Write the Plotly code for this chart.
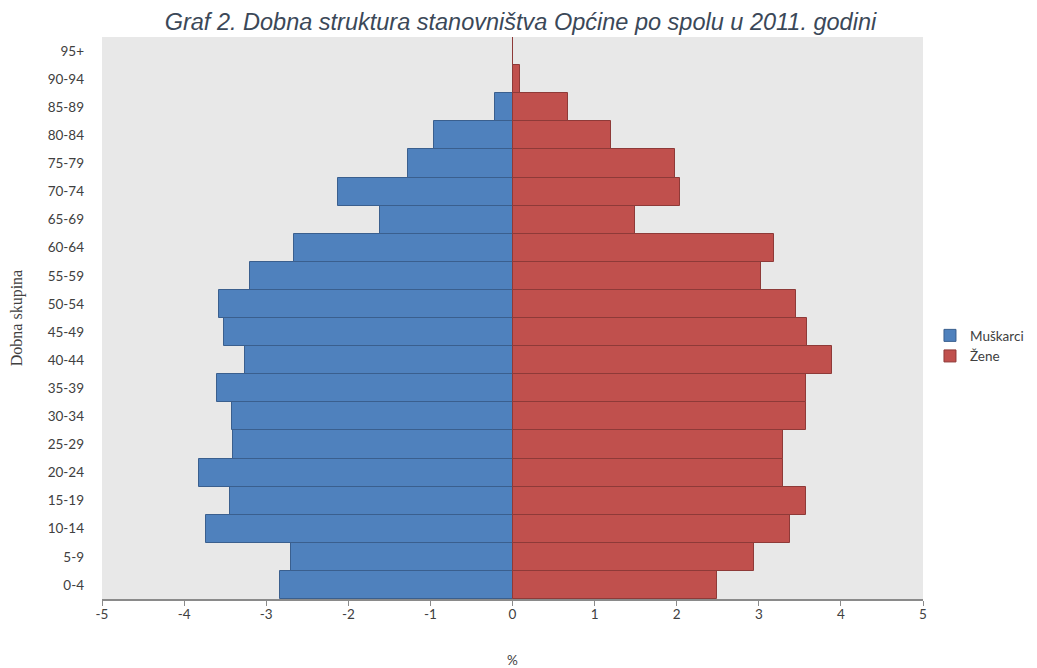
import plotly.graph_objects as go

age_groups = ["0-4", "5-9", "10-14", "15-19", "20-24", "25-29", "30-34", "35-39",
              "40-44", "45-49", "50-54", "55-59", "60-64", "65-69", "70-74", "75-79",
              "80-84", "85-89", "90-94", "95+"]
muskarci = [-2.83, -2.70, -3.73, -3.44, -3.82, -3.41, -3.42, -3.60, -3.26, -3.51,
            -3.57, -3.20, -2.66, -1.61, -2.13, -1.27, -0.955, -0.21, 0.0, 0.0]
zene = [2.49, 2.94, 3.38, 3.57, 3.30, 3.30, 3.57, 3.58, 3.89, 3.59,
        3.45, 3.03, 3.18, 1.49, 2.04, 1.98, 1.195, 0.68, 0.09, 0.0]
x_ticks = [-5, -4, -3, -2, -1, 0, 1, 2, 3, 4, 5]

fig = go.Figure()
fig.add_trace(go.Bar(y=age_groups, x=muskarci, orientation="h", name="Muškarci",
                     marker=dict(color="#4f81bd", line=dict(color="#3a5f8e", width=1))))
fig.add_trace(go.Bar(y=age_groups, x=zene, orientation="h", name="Žene",
                     marker=dict(color="#c0504d", line=dict(color="#8e3a38", width=1))))

tick_font = dict(family="Lato, Open Sans, sans-serif", size=13.5, color="#404040")

fig.update_layout(
    width=1029, height=660,
    barmode="overlay", bargap=0,
    paper_bgcolor="white", plot_bgcolor="#e8e8e8",
    margin=dict(l=94, r=114, t=29, b=69, autoexpand=False),
    title=dict(text="<i>Graf 2. Dobna struktura stanovništva Općine po spolu u 2011. godini</i>",
               x=0.498, xanchor="center", y=0.979, yanchor="middle",
               font=dict(family="Liberation Sans, Arial, sans-serif", size=23.5, color="#3b4858")),
    legend=dict(x=1.0085, y=0.45, xanchor="left", yanchor="middle",
                font=tick_font, bgcolor="rgba(0,0,0,0)", itemwidth=30),
    showlegend=True,
    xaxis=dict(range=[-5, 5], tickvals=x_ticks, ticktext=[str(v) for v in x_ticks],
               automargin=False, layer="above traces",
               showgrid=False, zeroline=True, zerolinecolor="#8a8a8a", zerolinewidth=1,
               showline=True, linecolor="#8a8a8a", linewidth=1.5,
               ticks="outside", ticklen=5, tickcolor="#8a8a8a",
               ticklabelstandoff=-3,
               tickfont=tick_font,
               title=dict(text="%", font=tick_font, standoff=35)),
    yaxis=dict(categoryorder="array", categoryarray=age_groups, automargin=False,
               showgrid=False, zeroline=False, showline=False, ticks="",
               ticklabelstandoff=17, tickfont=tick_font,
               title=dict(text="Dobna skupina",
                          font=dict(family="Liberation Serif, Times New Roman, serif",
                                    size=16, color="#404040"), standoff=23)),
)

fig.write_html("out.html")
